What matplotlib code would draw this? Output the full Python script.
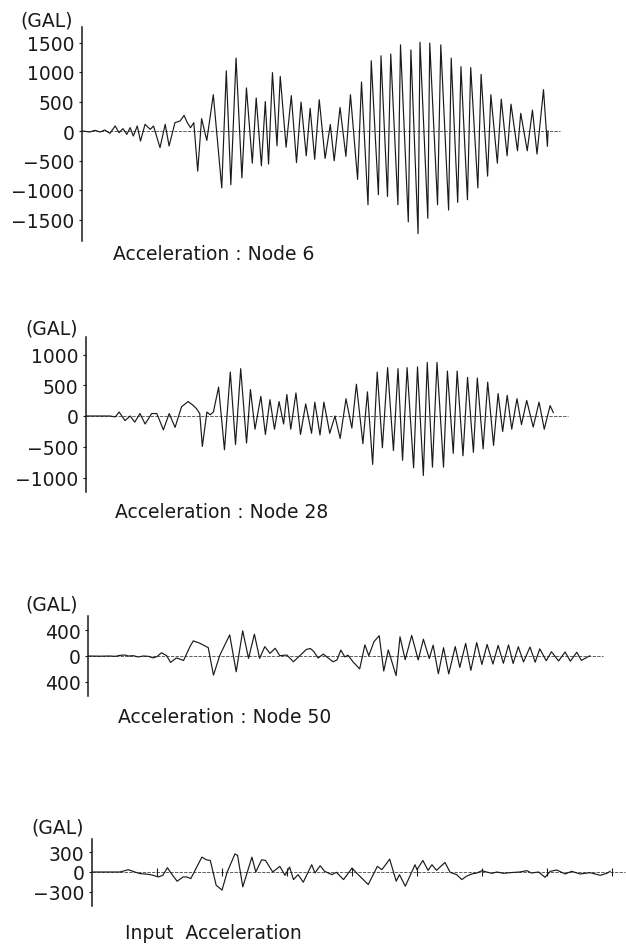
import matplotlib
matplotlib.use("Agg")
import matplotlib.pyplot as plt

# ---------------- data (time in s, acceleration in GAL) ----------------
node6_t = [0.01, 0.12, 0.20, 0.28, 0.35, 0.43, 0.51, 0.57, 0.63, 0.69, 0.74, 0.79, 0.85, 0.90,
           0.97, 1.05, 1.10, 1.20, 1.28, 1.34, 1.43, 1.51, 1.57, 1.62, 1.67, 1.72, 1.78, 1.84,
           1.92, 2.02, 2.15, 2.22, 2.29, 2.37, 2.46, 2.53, 2.62, 2.68, 2.76, 2.82, 2.87, 2.93,
           3.00, 3.05, 3.14, 3.22, 3.30, 3.37, 3.45, 3.51, 3.58, 3.65, 3.74, 3.82, 3.88, 3.97,
           4.06, 4.13, 4.24, 4.30, 4.40, 4.45, 4.56, 4.60, 4.70, 4.75, 4.86, 4.90, 5.02, 5.06,
           5.17, 5.20, 5.32, 5.35, 5.47, 5.52, 5.64, 5.68, 5.78, 5.83, 5.93, 5.98, 6.09, 6.14,
           6.24, 6.29, 6.39, 6.45, 6.54, 6.60, 6.70, 6.75, 6.85, 6.93, 7.00, 7.10, 7.16, 7.17]
node6_a = [0, -17, 11, -17, 17, -40, 85, -28, 40, -57, 57, -85, 85, -170,
           113, 28, 85, -282, 113, -254, 141, 170, 265, 141, 57, 141, -680, 210,
           -160, 615, -965, 1020, -910, 1236, -795, 730, -545, 560, -590, 500, -560, 990,
           -250, 925, -275, 600, -535, 490, -420, 385, -480, 530, -465, 110, -505, 400,
           -430, 615, -820, 830, -1250, 1190, -1080, 1275, -1110, 1305, -1250, 1460, -1540, 1375,
           -1740, 1505, -1480, 1490, -1250, 1460, -1340, 1235, -1210, 1090, -1165, 1075, -965, 960,
           -765, 615, -545, 540, -420, 455, -335, 300, -335, 355, -390, 700, -260, 0]

node28_t = [0.00, 0.37, 0.45, 0.51, 0.60, 0.68, 0.75, 0.83, 0.91, 1.01, 1.09, 1.19, 1.28, 1.37,
            1.47, 1.57, 1.64, 1.70, 1.75, 1.79, 1.86, 1.91, 1.96, 2.04, 2.13, 2.22, 2.30, 2.38,
            2.47, 2.53, 2.60, 2.69, 2.76, 2.83, 2.90, 2.97, 3.04, 3.09, 3.15, 3.23, 3.30, 3.38,
            3.47, 3.52, 3.60, 3.66, 3.75, 3.83, 3.91, 4.00, 4.09, 4.16, 4.26, 4.33, 4.41, 4.48,
            4.56, 4.64, 4.73, 4.80, 4.87, 4.94, 5.04, 5.10, 5.19, 5.25, 5.33, 5.40, 5.50, 5.56,
            5.65, 5.71, 5.80, 5.87, 5.96, 6.02, 6.11, 6.18, 6.27, 6.34, 6.41, 6.48, 6.55, 6.63,
            6.70, 6.78, 6.88, 6.97, 7.05, 7.14, 7.19]
node28_a = [0, 0, -15, 65, -75, 0, -100, 40, -130, 40, 40, -225, 40, -185,
            150, 235, 180, 120, 40, -495, 65, 20, 65, 470, -550, 715, -465, 770,
            -440, 430, -215, 320, -300, 265, -215, 235, -130, 350, -215, 375, -300, 197,
            -281, 225, -309, 225, -281, 0, -365, 281, -197, 517, -450, 393, -787, 714,
            -517, 787, -562, 770, -719, 787, -843, 798, -967, 871, -832, 871, -832, 731,
            -607, 731, -646, 629, -590, 618, -534, 551, -478, 365, -253, 337, -214, 281,
            -140, 253, -180, 225, -214, 169, 56]

node50_t = [0.00, 0.18, 0.34, 0.42, 0.49, 0.57, 0.62, 0.70, 0.77, 0.85, 0.93, 1.00, 1.06, 1.13,
            1.21, 1.27, 1.36, 1.47, 1.57, 1.62, 1.72, 1.85, 1.93, 2.03, 2.18, 2.28, 2.38, 2.47,
            2.56, 2.64, 2.72, 2.80, 2.88, 2.95, 3.06, 3.16, 3.36, 3.42, 3.47, 3.54, 3.62, 3.70,
            3.77, 3.83, 3.89, 3.95, 4.00, 4.08, 4.18, 4.26, 4.32, 4.40, 4.48, 4.55, 4.62, 4.74,
            4.80, 4.88, 4.98, 5.08, 5.16, 5.25, 5.31, 5.39, 5.47, 5.55, 5.65, 5.72, 5.81, 5.89,
            5.98, 6.06, 6.14, 6.23, 6.31, 6.39, 6.47, 6.54, 6.62, 6.70, 6.80, 6.88, 6.95, 7.05,
            7.13, 7.24, 7.34, 7.42, 7.52, 7.59, 7.72]
node50_a = [0, -3, 0, -5, 10, 15, 0, 5, -15, 0, -5, -30, -10, 50,
            5, -100, -30, -70, 150, 237, 200, 131, -300, 16, 331, -247, 395, -37,
            342, -37, 147, 42, 121, 5, 15, -90, 103, 118, 75, -32, 30, -35,
            -90, -63, 93, -14, 12, -95, -202, 175, 5, 225, 318, -236, 95, -308,
            301, -58, 323, -62, 263, -39, 170, -278, 130, -281, 148, -179, 198, -225,
            210, -133, 181, -126, 167, -114, 174, -117, 145, -93, 141, -97, 112, -74,
            67, -77, 63, -81, 59, -69, 3]

input_t = [0.00, 0.43, 0.56, 0.66, 0.74, 0.87, 0.94, 1.02, 1.09, 1.16, 1.24, 1.31, 1.40, 1.46,
           1.52, 1.69, 1.76, 1.82, 1.91, 2.00, 2.08, 2.20, 2.24, 2.32, 2.46, 2.52, 2.61, 2.67,
           2.78, 2.89, 2.97, 3.04, 3.10, 3.17, 3.25, 3.38, 3.43, 3.51, 3.58, 3.69, 3.76, 3.87,
           4.00, 4.07, 4.25, 4.39, 4.46, 4.58, 4.68, 4.73, 4.82, 4.97, 5.00, 5.09, 5.17, 5.23,
           5.30, 5.43, 5.51, 5.61, 5.69, 5.76, 5.84, 5.92, 6.00, 6.07, 6.15, 6.23, 6.33, 6.43,
           6.58, 6.69, 6.76, 6.87, 6.97, 7.05, 7.15, 7.28, 7.38, 7.51, 7.66, 7.82, 7.92, 7.97]
input_a = [0, 0, 35, 0, -25, -35, -50, -75, -50, 65, -50, -140, -75, -75,
           -100, 225, 185, 175, -200, -275, 0, 275, 250, -225, 225, 0, 185, 175,
           0, 85, -50, 75, -115, -40, -155, 110, -15, 95, 10, -40, -5, -115,
           60, -15, -190, 85, 35, 195, -140, -40, -215, 110, 35, 175, 25, 110,
           25, 145, -5, -40, -115, -65, -30, -15, 20, 0, -20, 0, -20, -10,
           0, 20, -15, 0, -80, 10, 30, -30, 10, -30, -10, -50, -20, 10]
input_marks = [1, 2, 3, 4, 5, 6, 7, 8]

panel_ticks = [[1500, 1000, 500, 0, -500, -1000, -1500],
               [1000, 500, 0, -500, -1000],
               [400, 0, -400],
               [300, 0, -300]]
panel_ticklabels = [["1500", "1000", "500", "0", "\u2212500", "\u22121000", "\u22121500"],
                    ["1000", "500", "0", "\u2212500", "\u22121000"],
                    ["400", "0", "400"],
                    ["300", "0", "\u2212300"]]
captions = ["Acceleration : Node 6", "Acceleration : Node 28",
            "Acceleration : Node 50", "Input  Acceleration"]
unit_label = "(GAL)"
baseline_end = [7.35, 7.42, 7.93, 8.20]

# ---------------- layout ----------------
W, H = 626, 945
PX_PER_S = 65.0
fig = plt.figure(figsize=(W / 100, H / 100), dpi=100)
plt.rcParams['font.family'] = ['DejaVu Sans']
FS = 13.5
INK = '#1a1a1a'

# left spine px, top px, bottom px, zero px, px per GAL, GAL label centre, caption left/centre y
layout = [
    dict(left=82, top=28, bottom=242, zero=132, ppg=0.059, gal=(47, 21), cap=(113, 255)),
    dict(left=86, top=338, bottom=493, zero=417, ppg=0.0615, gal=(52, 329), cap=(115, 513)),
    dict(left=88, top=617, bottom=697, zero=657, ppg=0.0638, gal=(52, 605), cap=(118, 718)),
    dict(left=92, top=840, bottom=907, zero=873, ppg=0.066, gal=(58, 828), cap=(125, 934)),
]
series = [(node6_t, node6_a), (node28_t, node28_a), (node50_t, node50_a), (input_t, input_a)]

for i, (L, (ts, vs)) in enumerate(zip(layout, series)):
    wpx = W - L['left']
    ax = fig.add_axes([L['left'] / W, 1 - L['bottom'] / H, wpx / W, (L['bottom'] - L['top']) / H])
    ax.set_xlim(0, wpx / PX_PER_S)
    ax.set_ylim(-(L['bottom'] - L['zero']) / L['ppg'], (L['zero'] - L['top']) / L['ppg'])
    for s in ['top', 'right', 'bottom']:
        ax.spines[s].set_visible(False)
    ax.spines['left'].set_linewidth(1.1)
    ax.spines['left'].set_color(INK)
    ax.set_xticks([])
    ax.set_yticks(panel_ticks[i])
    ax.set_yticklabels(panel_ticklabels[i], fontsize=FS, color=INK)
    ax.tick_params(axis='y', length=2.5, width=0.8, pad=3, colors=INK)
    ax.patch.set_alpha(0)
    # zero base line
    ax.plot([0, baseline_end[i]], [0, 0], color='#444444', lw=0.6, ls=(0, (4, 1.5)))
    # trace
    ax.plot(ts, vs, color=INK, lw=0.85, solid_joinstyle='round')
    if i == 3:
        ax.plot(input_marks, [0] * len(input_marks), ls='none', marker='|',
                ms=6, mew=0.8, color=INK)
    fig.text(L['gal'][0] / W, 1 - L['gal'][1] / H, unit_label, fontsize=FS,
             ha='center', va='center', color=INK)
    fig.text(L['cap'][0] / W, 1 - L['cap'][1] / H, captions[i], fontsize=FS,
             ha='left', va='center', color=INK)

fig.savefig("out.png", dpi=100)
